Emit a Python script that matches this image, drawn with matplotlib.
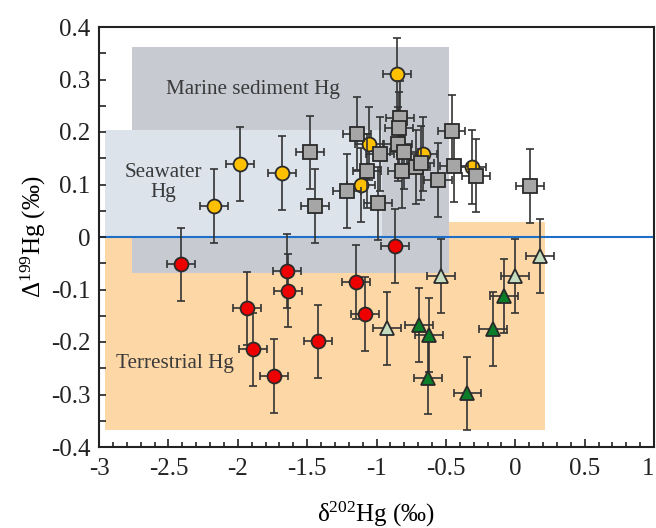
import matplotlib
matplotlib.use("Agg")
import matplotlib.pyplot as plt
from matplotlib.patches import Rectangle
from matplotlib.ticker import MultipleLocator
from matplotlib.transforms import ScaledTranslation

plt.rcParams['font.family'] = ['Liberation Serif', 'DejaVu Serif']
plt.rcParams['mathtext.fontset'] = 'custom'
plt.rcParams['mathtext.rm'] = 'Liberation Serif'
plt.rcParams['mathtext.it'] = 'Liberation Serif:italic'

# ---- data ----
gray_x = [-1.479, -1.443, -1.215, -1.143, -0.975, -1.066, -0.991, -0.831, -0.838,
          -0.843, -0.800, -0.818, -0.718, -0.682, -0.459, -0.439, -0.555, -0.285, 0.106]
gray_y = [0.161, 0.059, 0.088, 0.197, 0.158, 0.126, 0.064, 0.227, 0.207,
          0.177, 0.161, 0.126, 0.133, 0.141, 0.201, 0.136, 0.109, 0.117, 0.097]

yellow_x = [-2.171, -1.984, -1.683, -0.850, -1.052, -0.667, -0.314, -1.114]
yellow_y = [0.059, 0.139, 0.122, 0.310, 0.178, 0.158, 0.133, 0.099]

red_x = [-2.409, -1.936, -1.892, -1.741, -1.645, -1.636, -1.424, -1.150, -1.083, -0.867]
red_y = [-0.052, -0.136, -0.214, -0.265, -0.065, -0.102, -0.199, -0.086, -0.147, -0.017]

dgreen_x = [-0.694, -0.622, -0.627, -0.345, -0.163, -0.081]
dgreen_y = [-0.168, -0.187, -0.268, -0.298, -0.175, -0.112]

lgreen_x = [-0.535, -0.927, -0.002, 0.178]
lgreen_y = [-0.074, -0.174, -0.074, -0.036]

x_err = 0.1
y_err = 0.07

# shaded fields: (x0, x1, y0, y1)
terrestrial_box = (-2.957, 0.214, -0.368, 0.029)
marine_box = (-2.76, -0.48, -0.069, 0.361)
seawater_box = (-2.957, -0.963, 0.0, 0.204)

field_labels = ["Marine sediment Hg", "Seawater\nHg", "Terrestrial Hg"]
field_label_pos = [(-1.892, 0.281), (-2.537, 0.104), (-2.456, -0.241)]

x_ticks = [-3, -2.5, -2, -1.5, -1, -0.5, 0, 0.5, 1]
x_ticklabels = ["-3", "-2.5", "-2", "-1.5", "-1", "-0.5", "0", "0.5", "1"]
y_ticks = [-0.4, -0.3, -0.2, -0.1, 0, 0.1, 0.2, 0.3, 0.4]
y_ticklabels = ["-0.4", "-0.3", "-0.2", "-0.1", "0", "0.1", "0.2", "0.3", "0.4"]

# ---- figure ----
fig = plt.figure(figsize=(6.56, 5.28), dpi=100)
ax = fig.add_axes([99/656, 1-447/528, (654-99)/656, (447-27)/528])
ax.set_xlim(-3, 1)
ax.set_ylim(-0.4, 0.4)

def box(b, color, z):
    x0, x1, y0, y1 = b
    ax.add_patch(Rectangle((x0, y0), x1-x0, y1-y0, facecolor=color,
                           edgecolor='none', zorder=z))

box(terrestrial_box, '#FDD8A6', 0.5)
box(marine_box, '#C8CAD2', 0.6)
box(seawater_box, '#DCE3EB', 0.7)

ax.axhline(0, color='#1F6FC6', lw=1.5, zorder=1)

tcol = '#3A3A3A'
for lab, (tx, ty) in zip(field_labels, field_label_pos):
    ax.text(tx, ty, lab, ha='center', va='center', fontsize=15.2, color=tcol,
            linespacing=1.1, zorder=1.5)

ekw = dict(fmt='none', ecolor='#333333', elinewidth=1.2, capsize=3.2, capthick=1.2)

def series(xs, ys, marker, fc, ms, z):
    ax.errorbar(xs, ys, xerr=x_err, yerr=y_err, zorder=z, **ekw)
    ax.plot(xs, ys, linestyle='none', marker=marker, markersize=ms,
            markerfacecolor=fc, markeredgecolor='#2A2A2A', markeredgewidth=1.3,
            zorder=z + 0.1)

series(yellow_x, yellow_y, 'o', '#FFC000', 10, 3)
series(gray_x, gray_y, 's', '#A6A6A6', 10, 4)
series(red_x, red_y, 'o', '#EE0000', 10, 3)
series(dgreen_x, dgreen_y, '^', '#0A7D28', 10.5, 3)
series(lgreen_x, lgreen_y, '^', '#C4DDC0', 10.5, 3)

# axes styling
for s in ax.spines.values():
    s.set_linewidth(1.5)
    s.set_color('#222222')
    s.set_zorder(10)

ax.set_xticks(x_ticks)
ax.set_xticklabels(x_ticklabels)
ax.set_yticks(y_ticks)
ax.set_yticklabels(y_ticklabels)
ax.xaxis.set_minor_locator(MultipleLocator(0.1))
ax.yaxis.set_minor_locator(MultipleLocator(0.05))
ax.tick_params(axis='both', which='both', direction='in', top=False, right=False,
               labelsize=18, colors='#222222', width=1.2)
ax.tick_params(axis='x', which='major', length=6, pad=8)
ax.tick_params(axis='x', which='minor', length=3.5)
ax.tick_params(axis='y', which='both', length=5, pad=6)

# nudge the last x tick label so it stays inside the figure
last = ax.get_xticklabels()[-1]
last.set_transform(last.get_transform() + ScaledTranslation(-4/72, 0, fig.dpi_scale_trans))

ax.set_xlabel('δ$^{202}$Hg (‰)', fontsize=18, labelpad=14)
ax.set_ylabel('Δ$^{199}$Hg (‰)', fontsize=18, labelpad=2)

fig.savefig('out.png', dpi=100)
